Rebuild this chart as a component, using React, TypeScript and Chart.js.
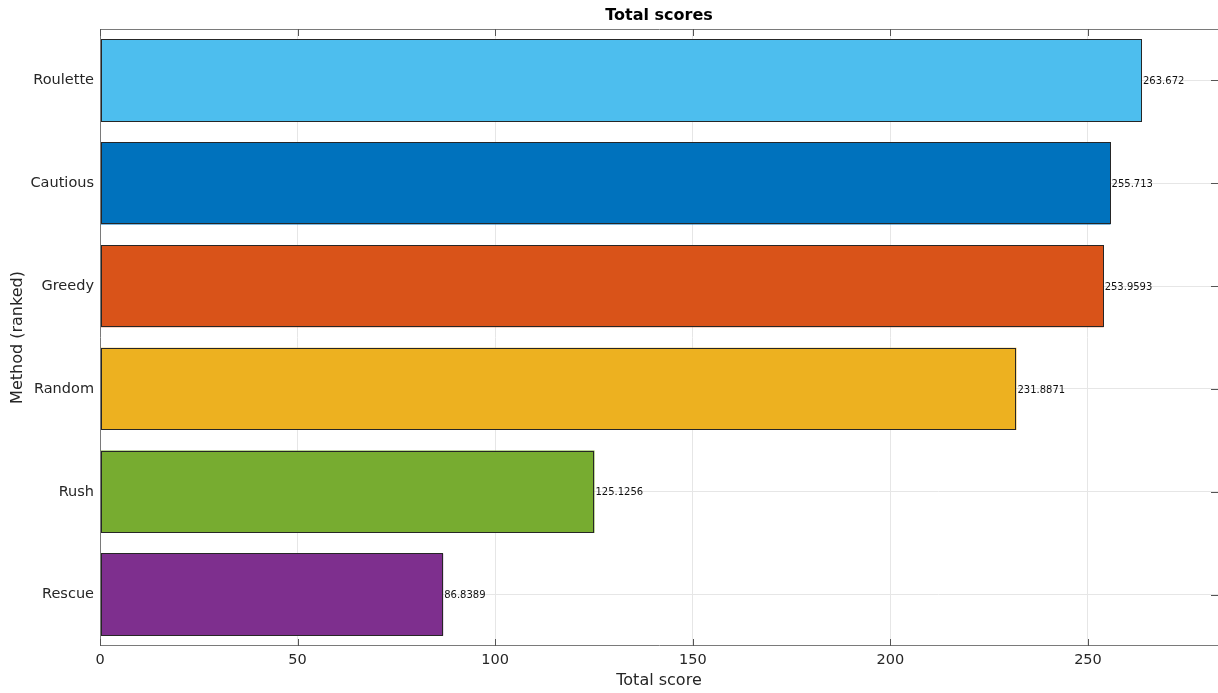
import React, { useEffect, useRef } from "react";
import { Chart, registerables } from "chart.js";

Chart.register(...registerables);

const methods = ["Roulette", "Cautious", "Greedy", "Random", "Rush", "Rescue"];
const scores = [263.672, 255.713, 253.9593, 231.8871, 125.1256, 86.8389];
const scoreLabels = ["263.672", "255.713", "253.9593", "231.8871", "125.1256", "86.8389"];
const barColors = ["#4DBEEE", "#0072BD", "#D95319", "#EDB120", "#77AC30", "#7E2F8E"];
const xTicks = [0, 50, 100, 150, 200, 250];
const xMax = 282.9;

const FONT = "'DejaVu Sans', sans-serif";

const decorPlugin = {
  id: "decor",
  afterDatasetsDraw(chart: any) {
    const ctx = chart.ctx;
    const { left, right, top, bottom } = chart.chartArea;
    const xs = chart.scales.x;
    const ys = chart.scales.y;
    ctx.save();
    // bar outlines
    const meta = chart.getDatasetMeta(0);
    ctx.strokeStyle = "#262626";
    ctx.lineWidth = 1;
    meta.data.forEach((bar: any) => {
      const x0 = Math.round(bar.base) + 0.5;
      const x1 = Math.round(bar.x) - 0.5;
      const y0 = Math.round(bar.y - bar.height / 2) + 0.5;
      const y1 = Math.round(bar.y + bar.height / 2) - 0.5;
      ctx.strokeRect(x0, y0, x1 - x0, y1 - y0);
    });
    // data labels
    ctx.font = `10px ${FONT}`;
    ctx.fillStyle = "#111";
    ctx.textAlign = "left";
    ctx.textBaseline = "middle";
    scores.forEach((v, i) => {
      const x = xs.getPixelForValue(v);
      const y = ys.getPixelForValue(i);
      ctx.fillText(scoreLabels[i], x + 1, y + 1);
    });
    // box
    ctx.strokeStyle = "#7a7a7a";
    ctx.beginPath();
    ctx.moveTo(left + 0.5, top + 0.5);
    ctx.lineTo(right + 0.5, top + 0.5);
    ctx.lineTo(right + 0.5, bottom - 0.5);
    ctx.lineTo(left + 0.5, bottom - 0.5);
    ctx.closePath();
    ctx.stroke();
    // ticks
    ctx.strokeStyle = "#555";
    ctx.beginPath();
    xTicks.forEach((t) => {
      const x = Math.round(xs.getPixelForValue(t)) + 0.5;
      ctx.moveTo(x, top);
      ctx.lineTo(x, top + 7);
      ctx.moveTo(x, bottom);
      ctx.lineTo(x, bottom - 7);
    });
    methods.forEach((_, i) => {
      const y = Math.round(ys.getPixelForValue(i)) + 0.5;
      ctx.moveTo(right, y);
      ctx.lineTo(right - 7, y);
    });
    ctx.stroke();
    // title
    ctx.fillStyle = "#000";
    ctx.textAlign = "center";
    ctx.textBaseline = "middle";
    ctx.font = `bold 16px ${FONT}`;
    ctx.fillText("Total scores", (left + right) / 2, 16);
    // axis titles
    ctx.fillStyle = "#262626";
    ctx.font = `16px ${FONT}`;
    ctx.fillText("Total score", (left + right) / 2, 681);
    ctx.save();
    ctx.translate(18, (top + bottom) / 2);
    ctx.rotate(-Math.PI / 2);
    ctx.fillText("Method (ranked)", 0, 0);
    ctx.restore();
    ctx.restore();
  },
};

export default function App() {
  const ref = useRef<HTMLCanvasElement | null>(null);
  useEffect(() => {
    if (!ref.current) return;
    const chart = new Chart(ref.current, {
      type: "bar",
      data: {
        labels: methods,
        datasets: [
          {
            data: scores,
            backgroundColor: barColors,
            borderWidth: 0,
            barPercentage: 0.8,
            categoryPercentage: 1,
          },
        ],
      },
      options: {
        indexAxis: "y",
        animation: false,
        responsive: false,
        maintainAspectRatio: false,
        layout: { padding: { top: 29, left: 0, right: 0, bottom: 0 } },
        plugins: { legend: { display: false }, title: { display: false }, tooltip: { enabled: false } },
        scales: {
          x: {
            type: "linear",
            min: 0,
            max: xMax,
            afterBuildTicks: (scale: any) => {
              scale.ticks = xTicks.map((v) => ({ value: v }));
            },
            afterFit: (scale: any) => {
              scale.height = 47;
            },
            grid: { color: "#e6e6e6", drawTicks: false, tickLength: 0 },
            border: { display: false },
            ticks: { color: "#262626", font: { family: FONT, size: 14.5 }, padding: 6 },
          },
          y: {
            type: "category",
            afterFit: (scale: any) => {
              scale.width = 100;
            },
            grid: { color: "#e6e6e6", drawTicks: false, tickLength: 0, offset: false },
            border: { display: false },
            ticks: { color: "#262626", font: { family: FONT, size: 14.5 }, padding: 6 },
          },
        },
      },
      plugins: [decorPlugin],
    } as any);
    return () => chart.destroy();
  }, []);
  return (
    <div style={{ position: "absolute", left: 0, top: 0, width: 1218, height: 693, background: "#fff" }}>
      <canvas ref={ref} width={1218} height={693} style={{ width: 1218, height: 693 }} />
    </div>
  );
}
